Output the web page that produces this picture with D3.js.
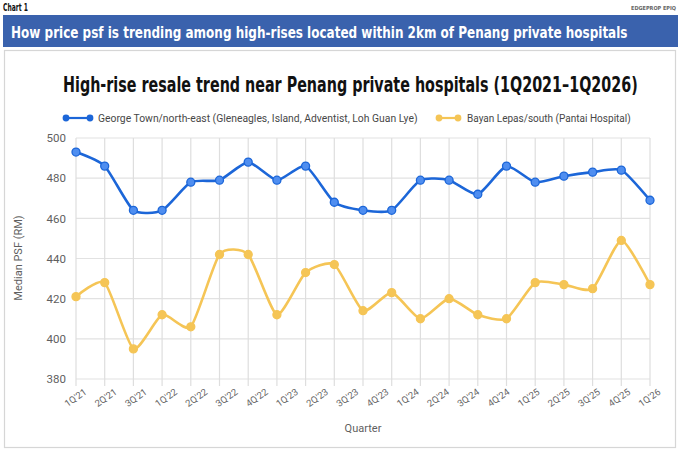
<!DOCTYPE html>
<html>
<head>
<meta charset="utf-8">
<script src="https://cdn.jsdelivr.net/npm/d3@7"></script>
<style>
  html, body { margin: 0; padding: 0; background: #fff; }
  svg { display: block; }
  .cond { font-family: "Liberation Sans Narrow", "DejaVu Sans Condensed", sans-serif; font-weight: bold; }
  .ui { font-family: Roboto, "Open Sans", Arial, sans-serif; }
</style>
</head>
<body>
<svg id="chart" width="681" height="454"></svg>
<script>
// tick labels shown under the axis (20 of them, spread over the full width)
const quarterLabels = ["1Q'21", "2Q'21", "3Q'21", "1Q'22", "2Q'22", "3Q'22", "4Q'22", "1Q'23", "2Q'23",
  "3Q'23", "4Q'23", "1Q'24", "2Q'24", "3Q'24", "4Q'24", "1Q'25", "2Q'25", "3Q'25", "4Q'25", "1Q'26"];

// 21 plotted periods
const georgeTown = [493, 486, 464, 464, 478, 479, 488, 479, 486, 468, 464, 464, 479, 479, 472, 486, 478, 481, 483, 484, 469];
const bayanLepas = [421, 428, 395, 412, 406, 442, 442, 412, 433, 437, 414, 423, 410, 420, 412, 410, 428, 427, 425, 449, 427];

const yTicks = [380, 400, 420, 440, 460, 480, 500];

const seriesNames = [
  "George Town/north-east (Gleneagles, Island, Adventist, Loh Guan Lye)",
  "Bayan Lepas/south (Pantai Hospital)"
];

const BLUE = "#1c66d8";
const YELLOW = "#f5c556";

const svg = d3.select("#chart");

// squeeze a text horizontally so it spans the given width (condensed look)
const squeeze = (g, x, y, width) => {
  const t = g.select("text");
  const len = t.node().getComputedTextLength();
  g.attr("transform", "translate(" + x + "," + y + ") scale(" + (width / len) + ",1)");
  return g;
};

// ---- header
squeeze(svg.append("g").call(g => g.append("text").attr("class", "cond")
  .attr("font-size", 10.5).attr("fill", "#111")
  .text("Chart 1")), 3, 11, 25);

svg.append("text").attr("class", "cond")
  .attr("x", 676).attr("y", 10).attr("text-anchor", "end")
  .attr("font-size", 5.5).attr("font-weight", "normal").attr("fill", "#666")
  .text("EDGEPROP EPIQ");

svg.append("rect")
  .attr("x", 3).attr("y", 15).attr("width", 675).attr("height", 32)
  .attr("fill", "#3a62ad");

squeeze(svg.append("g").call(g => g.append("text").attr("class", "cond")
  .attr("font-size", 15.5).attr("fill", "#fff")
  .text("How price psf is trending among high-rises located within 2km of Penang private hospitals")), 11, 37.5, 617);

// ---- chart box
svg.append("rect")
  .attr("x", 4.5).attr("y", 50.5).attr("width", 671).attr("height", 397)
  .attr("fill", "#fff").attr("stroke", "#d6d6d6").attr("stroke-width", 1.2);

squeeze(svg.append("g").call(g => g.append("text").attr("class", "cond")
  .attr("font-size", 21).attr("fill", "#111")
  .text("High-rise resale trend near Penang private hospitals (1Q2021\u20131Q2026)")), 63, 92, 575);

// ---- legend
const legend = [
  { name: seriesNames[0], color: BLUE, x0: 66, x1: 90, tx: 98, tl: 320 },
  { name: seriesNames[1], color: YELLOW, x0: 439, x1: 458, tx: 467, tl: 164 }
];

legend.forEach(d => {
  const g = svg.append("g");
  g.append("line")
    .attr("x1", d.x0).attr("x2", d.x1).attr("y1", 118).attr("y2", 118)
    .attr("stroke", d.color).attr("stroke-width", 2.2);
  g.selectAll("circle").data([d.x0, d.x1]).enter().append("circle")
    .attr("cx", c => c).attr("cy", 118).attr("r", 3.4).attr("fill", d.color);
  squeeze(svg.append("g").call(gg => gg.append("text").attr("class", "ui")
    .attr("font-size", 11).attr("fill", "#474747")
    .text(d.name)), d.tx, 122, d.tl);
});

// ---- scales
const x = d3.scalePoint().domain(d3.range(georgeTown.length)).range([76, 650]);
const xLab = d3.scalePoint().domain(quarterLabels).range([76, 650]);
const y = d3.scaleLinear().domain([380, 500]).range([379, 138]);

// ---- grid
const grid = svg.append("g");
grid.selectAll("line.h").data(yTicks).enter().append("line")
  .attr("class", "h")
  .attr("x1", 76).attr("x2", 650)
  .attr("y1", d => y(d)).attr("y2", d => y(d))
  .attr("stroke", "#e2e2e2").attr("stroke-width", 1.2);

grid.selectAll("line.v").data(x.domain()).enter().append("line")
  .attr("class", "v")
  .attr("x1", d => x(d)).attr("x2", d => x(d))
  .attr("y1", y(500)).attr("y2", y(380) + 7)
  .attr("stroke", "#dedede").attr("stroke-width", 1.2);

// ---- y axis
const yAxis = svg.append("g")
  .attr("transform", "translate(66,0)")
  .call(d3.axisLeft(y).tickValues(yTicks).tickSize(0).tickPadding(0));
yAxis.select(".domain").remove();
yAxis.selectAll("text")
  .attr("class", "ui").attr("font-size", 11.5).attr("fill", "#5f5f5f");

svg.append("text").attr("class", "ui")
  .attr("transform", "translate(22,258) rotate(-90)")
  .attr("text-anchor", "middle")
  .attr("font-size", 11).attr("fill", "#5f5f5f")
  .text("Median PSF (RM)");

// ---- x axis labels
const xAxis = svg.append("g")
  .attr("transform", "translate(0," + (y(380) + 9) + ")")
  .call(d3.axisBottom(xLab).tickSize(0).tickPadding(0));
xAxis.select(".domain").remove();
xAxis.selectAll("text")
  .attr("class", "ui")
  .attr("font-size", 9.5).attr("fill", "#666")
  .attr("text-anchor", "end")
  .attr("dy", "0.7em")
  .attr("transform", "translate(7,0) rotate(-35)");

svg.append("text").attr("class", "ui")
  .attr("x", 363).attr("y", 432)
  .attr("text-anchor", "middle")
  .attr("font-size", 11).attr("fill", "#5f5f5f")
  .text("Quarter");

// ---- lines and points
const line = d3.line()
  .x((d, i) => x(i))
  .y(d => y(d))
  .curve(d3.curveCardinal.tension(0.4));

const plotSeries = (values, color, pointFill) => {
  svg.append("path")
    .attr("d", line(values))
    .attr("fill", "none")
    .attr("stroke", color)
    .attr("stroke-width", 2.6)
    .attr("stroke-linejoin", "round");

  svg.append("g")
    .selectAll("circle")
    .data(values)
    .enter()
    .append("circle")
    .attr("cx", (d, i) => x(i))
    .attr("cy", d => y(d))
    .attr("r", 4)
    .attr("fill", pointFill)
    .attr("stroke", color)
    .attr("stroke-width", 1.3);
};

plotSeries(bayanLepas, YELLOW, YELLOW);
plotSeries(georgeTown, BLUE, "#4f8ef0");
</script>
</body>
</html>
